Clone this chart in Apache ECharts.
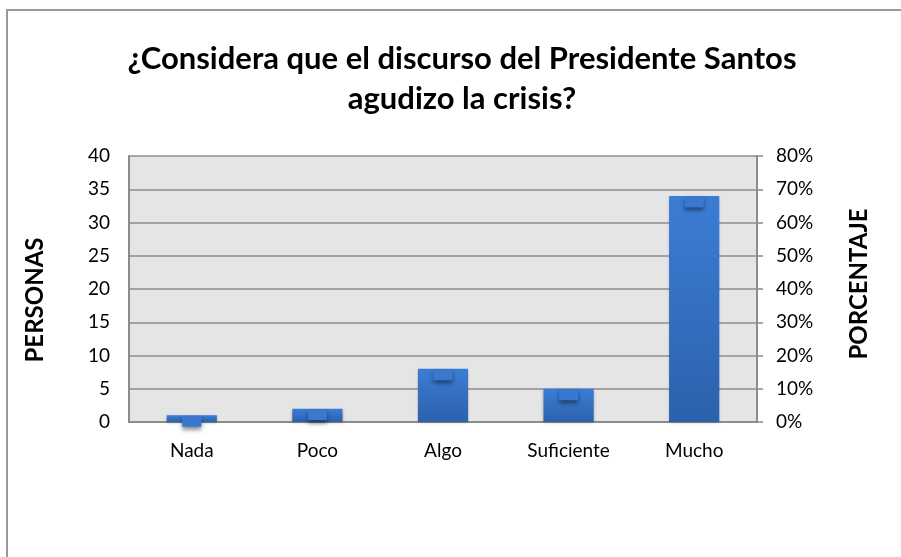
<!DOCTYPE html>
<html>
<head>
<meta charset="utf-8">
<script src="https://cdn.jsdelivr.net/npm/echarts@6/dist/echarts.min.js"></script>
<style>
  html, body { margin: 0; padding: 0; background: #fff; }
  #chart { width: 901px; height: 557px; }
</style>
</head>
<body>
<div id="chart"></div>
<script>
var categorias = ['Nada', 'Poco', 'Algo', 'Suficiente', 'Mucho'];
var personas = [1, 2, 8, 5, 34];
var porcentaje = [2, 4, 16, 10, 68];

var myChart = echarts.init(document.getElementById('chart'));

var fuente = 'Lato';
var gris = '#8c8c8c';

var option = {
    backgroundColor: '#fff',
    animation: false,
    // marco exterior del grafico
    graphic: [{
        type: 'rect',
        shape: { x: 7, y: 10, width: 1000, height: 700 },
        style: { fill: 'none', stroke: '#9a9a9a', lineWidth: 2 }
    }],
    title: {
        text: '¿Considera que el discurso del Presidente Santos\nagudizo la crisis?',
        left: 457,
        top: 34,
        textAlign: 'center',
        textStyle: {
            fontFamily: fuente,
            fontWeight: 'bold',
            fontSize: 31,
            lineHeight: 40,
            color: '#000'
        }
    },
    grid: {
        left: 129,
        right: 144,
        top: 156,
        bottom: 135,
        show: true,
        backgroundColor: '#e5e5e5',
        borderColor: gris,
        borderWidth: 0
    },
    xAxis: {
        type: 'category',
        data: categorias,
        axisLine: { lineStyle: { color: gris, width: 2 } },
        axisTick: { show: false },
        axisLabel: {
            fontFamily: fuente,
            fontSize: 19,
            color: '#000',
            margin: 19
        }
    },
    yAxis: [{
        type: 'value',
        min: 0,
        max: 40,
        interval: 5,
        name: 'PERSONAS',
        nameLocation: 'middle',
        nameRotate: 90,
        nameGap: 82,
        nameTextStyle: {
            fontFamily: fuente,
            fontWeight: 'bold',
            fontSize: 24,
            color: '#000',
            padding: [0, 22, 0, 0]
        },
        axisLine: { show: true, lineStyle: { color: gris, width: 2 } },
        axisTick: { show: false },
        axisLabel: {
            fontFamily: fuente,
            fontSize: 19,
            color: '#000',
            margin: 19
        },
        splitLine: { lineStyle: { color: gris, width: 1.5 } }
    }, {
        type: 'value',
        min: 0,
        max: 80,
        interval: 10,
        position: 'right',
        name: 'PORCENTAJE',
        nameLocation: 'middle',
        nameRotate: 90,
        nameGap: 90,
        nameTextStyle: {
            fontFamily: fuente,
            fontWeight: 'bold',
            fontSize: 24,
            color: '#000',
            padding: [0, 0, 0, 10]
        },
        axisLine: { show: true, lineStyle: { color: gris, width: 2 } },
        axisTick: { show: true, length: 6, inside: false, lineStyle: { color: gris, width: 1.5 } },
        axisLabel: {
            fontFamily: fuente,
            fontSize: 19,
            color: '#000',
            margin: 19,
            formatter: '{value}%'
        },
        splitLine: { show: false }
    }],
    series: [{
        name: 'Personas',
        type: 'bar',
        data: personas,
        barWidth: '40%',
        itemStyle: {
            color: new echarts.graphic.LinearGradient(0, 0, 0, 1, [
                { offset: 0, color: '#3b7dd6' },
                { offset: 1, color: '#2c61ab' }
            ]),
            shadowColor: 'rgba(0,0,0,0.25)',
            shadowBlur: 3,
            shadowOffsetY: 1
        }
    }, {
        name: 'Porcentaje',
        type: 'line',
        yAxisIndex: 1,
        data: porcentaje,
        lineStyle: { opacity: 0 },
        symbol: 'rect',
        symbolSize: [19, 11],
        symbolOffset: [0, 6],
        itemStyle: {
            color: '#3a78cf',
            borderWidth: 0,
            shadowColor: 'rgba(0,0,0,0.45)',
            shadowBlur: 4,
            shadowOffsetY: 3
        },
        z: 3
    }]
};

myChart.setOption(option);
</script>
</body>
</html>
